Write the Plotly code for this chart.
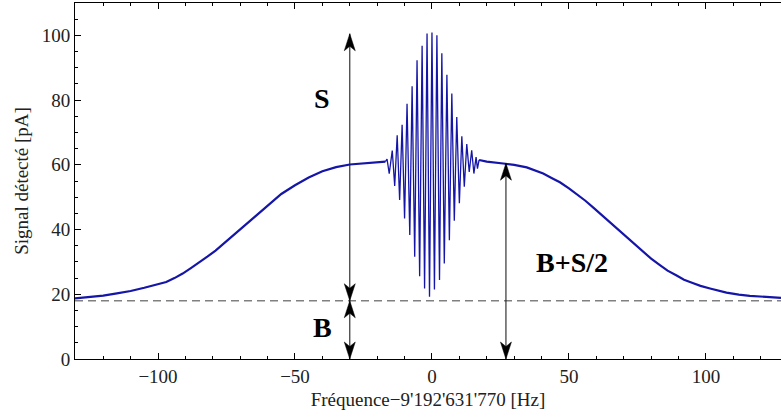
import plotly.graph_objects as go

# ---- data ----
left_x = [-130.3, -125, -120, -115, -110, -105, -100, -97, -94, -91, -88, -85, -82, -79,
          -75, -70, -65, -60, -55, -50, -45, -40, -35, -30, -25, -20, -17.0]
left_y = [18.7, 19.1, 19.6, 20.3, 21.0, 22.0, 23.0, 23.8, 25.0, 26.4, 28.1, 29.8, 31.6, 33.5,
          36.4, 40.2, 43.9, 47.5, 51.0, 53.7, 56.1, 58.0, 59.3, 60.1, 60.5, 60.8, 61.0]

fringe_x = [-17.0, -16.4, -15.6, -14.5, -13.6, -12.7, -11.8, -10.9, -10.0, -9.1, -8.1,
            -7.25, -6.3, -5.45, -4.5, -3.6, -2.7, -1.8, -0.9, 0.0, 0.9, 1.8, 2.75,
            3.6, 4.5, 5.45, 6.35, 7.25, 8.15, 9.05, 10.0, 10.9, 11.8, 12.7, 13.6,
            14.5, 15.3, 16.1, 16.6, 17.2]
fringe_y = [61.0, 61.8, 57.3, 64.4, 53.5, 69.1, 49.1, 72.4, 43.4, 78.9, 38.3,
            84.3, 31.6, 92.3, 25.6, 96.8, 21.8, 100.6, 19.2, 100.9, 21.5, 100.0, 24.4,
            94.5, 29.5, 87.8, 36.7, 82.0, 42.7, 74.8, 48.1, 68.8, 53.2, 66.4, 57.8,
            64.5, 57.3, 62.4, 58.8, 61.5]

right_x = [17.2, 20, 26, 30, 34.6, 38, 40.6, 44, 46.7, 50, 52.8, 56, 58.9, 62, 65, 68, 71,
           74, 77.1, 80, 83.2, 86, 89.3, 92, 95.4, 98, 101.5, 104, 107.5, 112, 116, 122, 127.4]
right_y = [61.5, 61.0, 60.4, 60.0, 59.2, 58.2, 57.3, 55.8, 54.6, 52.7, 51.0, 48.9, 46.8, 44.5,
           42.3, 40.0, 37.7, 35.4, 33.1, 31.0, 29.0, 27.3, 25.8, 24.5, 23.4, 22.6, 21.8, 21.2,
           20.5, 19.9, 19.5, 19.2, 18.9]

baseline_B = 18.0
signal_top = 100.5
half_level = 60.5
arrow_S_x = -30.0
arrow_half_x = 27.0

x_tickvals = [-100, -50, 0, 50, 100]
x_ticktext = ["\u2212100", "\u221250", "0", "50", "100"]
y_tickvals = [0, 20, 40, 60, 80, 100]
y_ticktext = ["0", "20", "40", "60", "80", "100"]

labels = [("S", -40.0, 80.5), ("B", -40.0, 9.6), ("B+S/2", 51.0, 29.9)]

# ---- figure ----
BLUE = "#1515a8"
FONT = "Liberation Serif, Times New Roman, DejaVu Serif, serif"
XR = [-130.3, 127.4]
YR = [0, 110]

fig = go.Figure()
fig.add_trace(go.Scatter(x=left_x, y=left_y, mode="lines",
                         line=dict(color=BLUE, width=2.2), hoverinfo="skip"))
fig.add_trace(go.Scatter(x=right_x, y=right_y, mode="lines",
                         line=dict(color=BLUE, width=2.2), hoverinfo="skip"))
fig.add_trace(go.Scatter(x=fringe_x, y=fringe_y, mode="lines",
                         line=dict(color=BLUE, width=1.3), hoverinfo="skip"))

# dashed baseline
fig.add_shape(type="line", xref="paper", x0=0, x1=1, yref="y", y0=baseline_B, y1=baseline_B,
              line=dict(color="#808080", width=1.3, dash="8px,5px"))

# arrow heads (pixel sizes converted to data units)
PX_PER_X = 706 / (XR[1] - XR[0])
PX_PER_Y = 356 / (YR[1] - YR[0])
HEAD_LEN = 17 / PX_PER_Y
HEAD_NOTCH = 12.5 / PX_PER_Y
HEAD_HALF = 5.5 / PX_PER_X


def head(x, tip, direction):
    b = tip - direction * HEAD_LEN
    n = tip - direction * HEAD_NOTCH
    return (f"M {x},{tip} L {x - HEAD_HALF},{b} L {x},{n} L {x + HEAD_HALF},{b} Z")


def double_arrow(x, y0, y1):
    fig.add_shape(type="line", xref="x", yref="y", x0=x, x1=x, y0=y0, y1=y1,
                  line=dict(color="#222222", width=1.1))
    for tip, d in ((y1, 1), (y0, -1)):
        fig.add_shape(type="path", xref="x", yref="y", path=head(x, tip, d),
                      fillcolor="black", line=dict(color="black", width=0.5))


double_arrow(arrow_S_x, baseline_B, signal_top)
double_arrow(arrow_S_x, YR[0], baseline_B)
double_arrow(arrow_half_x, YR[0], half_level)

for txt, lx, ly in labels:
    fig.add_annotation(x=lx, y=ly, xref="x", yref="y", text=f"<b>{txt}</b>", showarrow=False,
                       font=dict(family=FONT, size=28, color="black"))

axis_common = dict(showgrid=False, zeroline=False, showline=True, linecolor="black",
                   linewidth=1, ticks="inside", tickcolor="black", ticklen=6,
                   tickfont=dict(family=FONT, size=19, color="#222222"))

fig.update_xaxes(range=XR, tickvals=x_tickvals, ticktext=x_ticktext, mirror="ticks",
                 minor=dict(dtick=10, tick0=0, ticks="inside", ticklen=3, tickcolor="black"),
                 title=dict(text="Fréquence\u22129'192'631'770 [Hz]",
                            font=dict(family=FONT, size=19, color="#222222"), standoff=6),
                 **axis_common)
fig.update_yaxes(range=YR, tickvals=y_tickvals, ticktext=y_ticktext, mirror=False,
                 minor=dict(dtick=5, tick0=0, ticks="inside", ticklen=3, tickcolor="black"),
                 title=dict(text="Signal détecté [pA]",
                            font=dict(family=FONT, size=19, color="#222222"), standoff=8),
                 **axis_common)

fig.update_layout(width=781, height=419, margin=dict(l=75, r=0, t=3, b=60),
                  plot_bgcolor="white", paper_bgcolor="white", showlegend=False,
                  font=dict(family=FONT))

fig.write_html("out.html")
